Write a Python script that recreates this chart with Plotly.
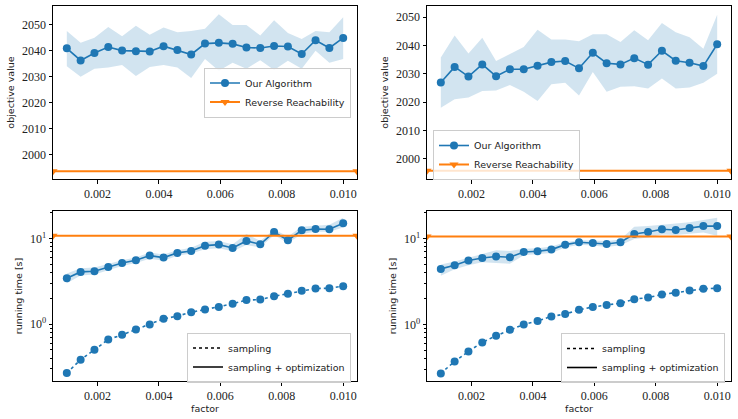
import plotly.graph_objects as go

# ---------------- data ----------------
factor = [0.00100, 0.00145, 0.00190, 0.00235, 0.00280, 0.00325, 0.00370, 0.00415, 0.00460, 0.00505,
          0.00550, 0.00595, 0.00640, 0.00685, 0.00730, 0.00775, 0.00820, 0.00865, 0.00910, 0.00955, 0.01000]

obj_left_mean = [2041.0, 2036.3, 2039.2, 2041.5, 2040.1, 2039.9, 2039.8, 2041.8, 2040.3, 2038.6, 2042.8,
                 2043.1, 2042.7, 2041.3, 2041.1, 2041.9, 2041.7, 2038.8, 2044.1, 2041.1, 2045.0]
obj_left_upper = [2047.7, 2043.1, 2045.1, 2049.2, 2045.6, 2049.7, 2046.2, 2049.0, 2047.2, 2047.7, 2048.5,
                  2054.1, 2050.0, 2050.0, 2045.9, 2051.8, 2046.9, 2044.6, 2047.7, 2047.2, 2053.0]
obj_left_lower = [2034.1, 2030.0, 2033.1, 2033.6, 2034.6, 2030.3, 2033.8, 2034.6, 2033.6, 2029.5, 2036.9,
                  2032.3, 2035.4, 2033.1, 2036.4, 2032.6, 2036.2, 2033.1, 2040.0, 2035.4, 2036.9]
rr_obj_left = 1993.6

obj_right_mean = [2026.9, 2032.4, 2029.0, 2033.3, 2029.1, 2031.6, 2031.6, 2032.8, 2034.1, 2034.5, 2031.9,
                  2037.4, 2033.7, 2033.3, 2035.5, 2033.2, 2038.1, 2034.6, 2033.9, 2032.7, 2040.4]
obj_right_upper = [2035.7, 2043.5, 2037.1, 2042.7, 2034.5, 2037.1, 2039.4, 2045.5, 2042.1, 2042.1, 2041.5,
                   2043.9, 2043.9, 2041.2, 2045.3, 2041.8, 2047.9, 2044.6, 2042.9, 2038.8, 2050.8]
obj_right_lower = [2018.0, 2021.0, 2021.6, 2023.9, 2024.1, 2026.0, 2023.6, 2020.4, 2026.3, 2026.8, 2022.3,
                   2030.6, 2023.6, 2025.4, 2025.6, 2024.8, 2028.3, 2024.8, 2025.1, 2026.8, 2030.0]
rr_obj_right = 1995.8

time_left_total = [3.44, 4.08, 4.16, 4.67, 5.20, 5.58, 6.33, 6.00, 6.81, 7.18, 8.28,
                   8.51, 7.78, 9.39, 8.59, 11.96, 9.57, 12.5, 12.97, 12.85, 15.1]
time_left_upper = [3.9, 4.5, 4.6, 5.1, 5.6, 6.0, 6.9, 6.5, 7.3, 7.8, 9.2,
                   9.4, 8.6, 11.3, 9.4, 12.8, 10.6, 13.8, 14.2, 14.5, 17.5]
time_left_lower = [3.0, 3.7, 3.8, 4.3, 4.8, 5.2, 5.8, 5.5, 6.3, 6.7, 7.5,
                   7.7, 7.1, 8.4, 7.9, 11.0, 8.9, 11.3, 12.0, 12.0, 13.5]
time_left_sampling = [0.268, 0.384, 0.501, 0.662, 0.750, 0.867, 0.99, 1.154, 1.24, 1.38, 1.48,
                      1.59, 1.73, 1.91, 1.94, 2.12, 2.26, 2.45, 2.61, 2.63, 2.78]
rr_time_left = 10.8

time_right_total = [4.44, 4.90, 5.55, 5.96, 6.18, 6.07, 7.0, 7.13, 7.45, 8.51, 9.06,
                    8.9, 8.67, 9.06, 11.3, 11.96, 12.85, 12.6, 13.3, 14.0, 14.0]
time_right_upper = [5.0, 5.4, 6.0, 6.6, 7.3, 7.2, 7.6, 7.7, 8.1, 9.1, 9.6,
                    9.5, 9.4, 9.8, 13.8, 14.0, 14.5, 14.8, 15.5, 16.5, 17.5]
time_right_lower = [3.7, 4.4, 4.9, 5.3, 5.2, 5.1, 6.4, 6.6, 6.8, 7.9, 8.5,
                    8.3, 8.0, 8.4, 9.9, 10.3, 11.2, 11.0, 11.5, 11.8, 10.8]
time_right_sampling = [0.269, 0.371, 0.485, 0.618, 0.738, 0.867, 1.0, 1.10, 1.24, 1.32, 1.48,
                       1.60, 1.68, 1.77, 1.97, 2.06, 2.23, 2.34, 2.49, 2.60, 2.64]
rr_time_right = 10.6

x_ticks = [0.002, 0.004, 0.006, 0.008, 0.010]
obj_ticks = [2000, 2010, 2020, 2030, 2040, 2050]
log_ticks = [1, 10]
log_ticktext = ["10<sup>0</sup>", "10<sup>1</sup>"]
log_minor = [0.3, 0.4, 0.5, 0.6, 0.7, 0.8, 0.9, 2, 3, 4, 5, 6, 7, 8, 9, 20]

# ---------------- style ----------------
BLUE = "#1f77b4"
ORANGE = "#ff7f0e"
BAND = "rgba(31,119,180,0.2)"
SERIF = "Liberation Serif"
SANS = "DejaVu Sans"

span = max(factor) - min(factor)
x_lo = min(factor) - 0.05 * span
x_hi = max(factor) + 0.05 * span

fig = go.Figure()

panels = [
    ("x", "y", "legend", obj_left_mean, obj_left_upper, obj_left_lower, rr_obj_left, None),
    ("x2", "y2", "legend2", obj_right_mean, obj_right_upper, obj_right_lower, rr_obj_right, None),
    ("x3", "y3", "legend3", time_left_total, time_left_upper, time_left_lower, rr_time_left, time_left_sampling),
    ("x4", "y4", "legend4", time_right_total, time_right_upper, time_right_lower, rr_time_right, time_right_sampling),
]

for xa, ya, lg, mean, up, lo, rr, samp in panels:
    fig.add_trace(go.Scatter(x=factor, y=lo, mode="lines", line=dict(width=0, color=BAND),
                             showlegend=False, hoverinfo="skip", xaxis=xa, yaxis=ya))
    fig.add_trace(go.Scatter(x=factor, y=up, mode="lines", line=dict(width=0, color=BAND),
                             fill="tonexty", fillcolor=BAND,
                             showlegend=False, hoverinfo="skip", xaxis=xa, yaxis=ya))
    if samp is not None:
        fig.add_trace(go.Scatter(x=factor, y=samp, mode="lines+markers",
                                 line=dict(color=BLUE, width=1.6, dash="dot"),
                                 marker=dict(color=BLUE, size=8),
                                 showlegend=False, xaxis=xa, yaxis=ya))
    fig.add_trace(go.Scatter(x=factor, y=mean, mode="lines+markers", name="Our Algorithm",
                             line=dict(color=BLUE, width=1.6), marker=dict(color=BLUE, size=8),
                             showlegend=samp is None, legend=lg, xaxis=xa, yaxis=ya))
    fig.add_trace(go.Scatter(x=[x_lo, x_hi], y=[rr, rr], mode="lines+markers", name="Reverse Reachability",
                             line=dict(color=ORANGE, width=2),
                             marker=dict(color=ORANGE, size=8, symbol="triangle-down"),
                             cliponaxis=True,
                             showlegend=samp is None, legend=lg, xaxis=xa, yaxis=ya))
    if samp is not None:
        fig.add_trace(go.Scatter(x=[None], y=[None], mode="lines", name="sampling",
                                 line=dict(color="black", width=1.6, dash="dot"),
                                 legend=lg, xaxis=xa, yaxis=ya))
        fig.add_trace(go.Scatter(x=[None], y=[None], mode="lines", name="sampling + optimization",
                                 line=dict(color="black", width=1.6),
                                 legend=lg, xaxis=xa, yaxis=ya))

W, H = 738, 419
left_dom = [53 / W, 357 / W]
right_dom = [427 / W, 731 / W]
top_dom = [1 - 179 / H, 1 - 6 / H]
bot_dom = [1 - 381 / H, 1 - 211 / H]

tickfont = dict(family=SERIF, size=12, color="#222")
titlefont = dict(family=SANS, size=9.5, color="#222")

def xaxis(dom, anchor, title=None):
    d = dict(domain=dom, anchor=anchor, range=[x_lo, x_hi], tickvals=x_ticks, tickformat=".3f",
             ticks="outside", ticklen=3.5, tickwidth=0.8, tickcolor="black",
             showline=True, linecolor="black", linewidth=1, mirror=True,
             showgrid=False, zeroline=False, tickfont=tickfont, automargin=False)
    if title:
        d["title"] = dict(text=title, font=titlefont, standoff=3)
    return d

def yaxis_obj(dom, anchor, rng):
    return dict(domain=dom, anchor=anchor, range=rng, tickvals=obj_ticks,
                ticks="outside", ticklen=3.5, tickwidth=0.8, tickcolor="black",
                showline=True, linecolor="black", linewidth=1, mirror=True,
                showgrid=False, zeroline=False, tickfont=tickfont, automargin=False,
                title=dict(text="objective value", font=titlefont, standoff=5))

def yaxis_log(dom, anchor, rng):
    return dict(domain=dom, anchor=anchor, type="log", range=rng, tickvals=log_ticks, ticktext=log_ticktext,
                ticks="outside", ticklen=3.5, tickwidth=0.8, tickcolor="black",
                minor=dict(tickvals=log_minor, ticks="outside", ticklen=2, tickwidth=0.6, tickcolor="black",
                           showgrid=False),
                showline=True, linecolor="black", linewidth=1, mirror=True,
                showgrid=False, zeroline=False, tickfont=tickfont, automargin=False,
                title=dict(text="running time [s]", font=titlefont, standoff=5))

legfont = dict(family=SANS, size=9.5, color="#222")
legbase = dict(font=legfont, bgcolor="rgba(255,255,255,0.8)", bordercolor="#cccccc", borderwidth=1,
               xref="paper", yref="paper", tracegroupgap=0, itemwidth=30, traceorder="normal")

fig.update_layout(
    width=W, height=H, margin=dict(l=0, r=0, t=0, b=0),
    paper_bgcolor="white", plot_bgcolor="white",
    xaxis=xaxis(left_dom, "y"),
    yaxis=yaxis_obj(top_dom, "x", [1990.6, 2057.3]),
    xaxis2=xaxis(right_dom, "y2"),
    yaxis2=yaxis_obj(top_dom, "x2", [1992.85, 2053.9]),
    xaxis3=xaxis(left_dom, "y3", "factor"),
    yaxis3=yaxis_log(bot_dom, "x3", [-0.665, 1.323]),
    xaxis4=xaxis(right_dom, "y4", "factor"),
    yaxis4=yaxis_log(bot_dom, "x4", [-0.659, 1.322]),
    legend=dict(legbase, x=351 / W, xanchor="right", y=1 - 92.5 / H, yanchor="middle"),
    legend2=dict(legbase, x=433 / W, xanchor="left", y=1 - 155 / H, yanchor="middle"),
    legend3=dict(legbase, x=351 / W, xanchor="right", y=1 - 357.5 / H, yanchor="middle"),
    legend4=dict(legbase, x=725 / W, xanchor="right", y=1 - 358 / H, yanchor="middle"),
)

fig.write_html("out.html")
